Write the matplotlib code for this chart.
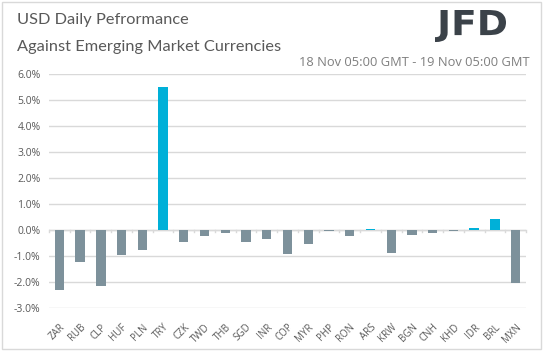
import matplotlib.pyplot as plt
from matplotlib.patches import Rectangle, PathPatch
from matplotlib.textpath import TextPath
from matplotlib.font_manager import FontProperties
from matplotlib.transforms import Affine2D, IdentityTransform

currencies = ['ZAR', 'RUB', 'CLP', 'HUF', 'PLN', 'TRY', 'CZK', 'TWD', 'THB', 'SGD',
              'INR', 'COP', 'MYR', 'PHP', 'RON', 'ARS', 'KRW', 'BGN', 'CNH', 'KHD',
              'IDR', 'BRL', 'MXN']
changes = [-2.32, -1.24, -2.14, -0.97, -0.78, 5.51, -0.47, -0.24, -0.13, -0.47,
           -0.33, -0.94, -0.55, -0.05, -0.24, 0.05, -0.90, -0.20, -0.13, -0.05,
           0.09, 0.44, -2.05]
yticks = [-3, -2, -1, 0, 1, 2, 3, 4, 5, 6]

grey = '#7d919b'
blue = '#00b0d8'
colors = [blue if v > 0 else grey for v in changes]

W, H = 543, 351
fig = plt.figure(figsize=(W / 100, H / 100), dpi=100)
plt.rcParams['font.family'] = ['Open Sans', 'DejaVu Sans']

# outer border
fig.patches.append(Rectangle((2 / W, 2 / H), 1 - 4 / W, 1 - 4 / H, transform=fig.transFigure,
                             fill=False, edgecolor='#d9d9d9', linewidth=1))

ax = fig.add_axes([49 / W, 1 - 308 / H, (526 - 49) / W, (308 - 74) / H])
x = range(len(currencies))
ax.bar(x, changes, width=0.45, color=colors, zorder=3)

ax.set_ylim(-3, 6)
ax.set_xlim(-0.5, len(currencies) - 0.5)
ax.set_yticks(yticks)
ax.set_yticklabels(['%.1f%%' % v for v in yticks], fontsize=7.5, color='#595959')
ax.yaxis.grid(True, color='#d9d9d9', linewidth=1, zorder=0)
ax.tick_params(axis='y', length=0, pad=6)

ax.set_xticks(list(x))
ax.set_xticklabels(currencies, rotation=45, ha='right', rotation_mode='anchor',
                   fontsize=7, color='#595959')
ax.tick_params(axis='x', which='major', length=0, pad=10)
ax.axhline(0, color='#d9d9d9', linewidth=1, zorder=2)
for i in range(len(currencies) + 1):
    ax.plot([i - 0.5, i - 0.5], [0, -0.06], color='#d9d9d9', linewidth=1, zorder=2,
            clip_on=False)

for s in ax.spines.values():
    s.set_visible(False)

fig.text(17 / W, 1 - 20 / H, 'USD Daily Pefrormance', fontsize=11.8, color='#595959',
         va='center', ha='left', family='Lato')
fig.text(17 / W, 1 - 47 / H, 'Against Emerging Market Currencies', fontsize=11.8,
         color='#595959', va='center', ha='left', family='Lato')
fig.text(530 / W, 1 - 62 / H, '18 Nov 05:00 GMT - 19 Nov 05:00 GMT', fontsize=9.3,
         color='#7f7f7f', va='center', ha='right')

# logo, squeezed to fit its box (pixels: x 435-506, y 10-42 from top)
tp = TextPath((0, 0), 'JFD', size=40, prop=FontProperties(family='DejaVu Sans', weight='bold'))
bb = tp.get_extents()
x0, x1, top, bot = 435, 506, 10, 42
tr = (Affine2D().translate(-bb.x0, -bb.y0)
      .scale((x1 - x0) / bb.width, (bot - top) / bb.height)
      .translate(x0, H - bot))
fig.patches.append(PathPatch(tr.transform_path(tp), facecolor='#3b4249', edgecolor='none',
                             transform=IdentityTransform()))

fig.savefig('out.png', dpi=100)
